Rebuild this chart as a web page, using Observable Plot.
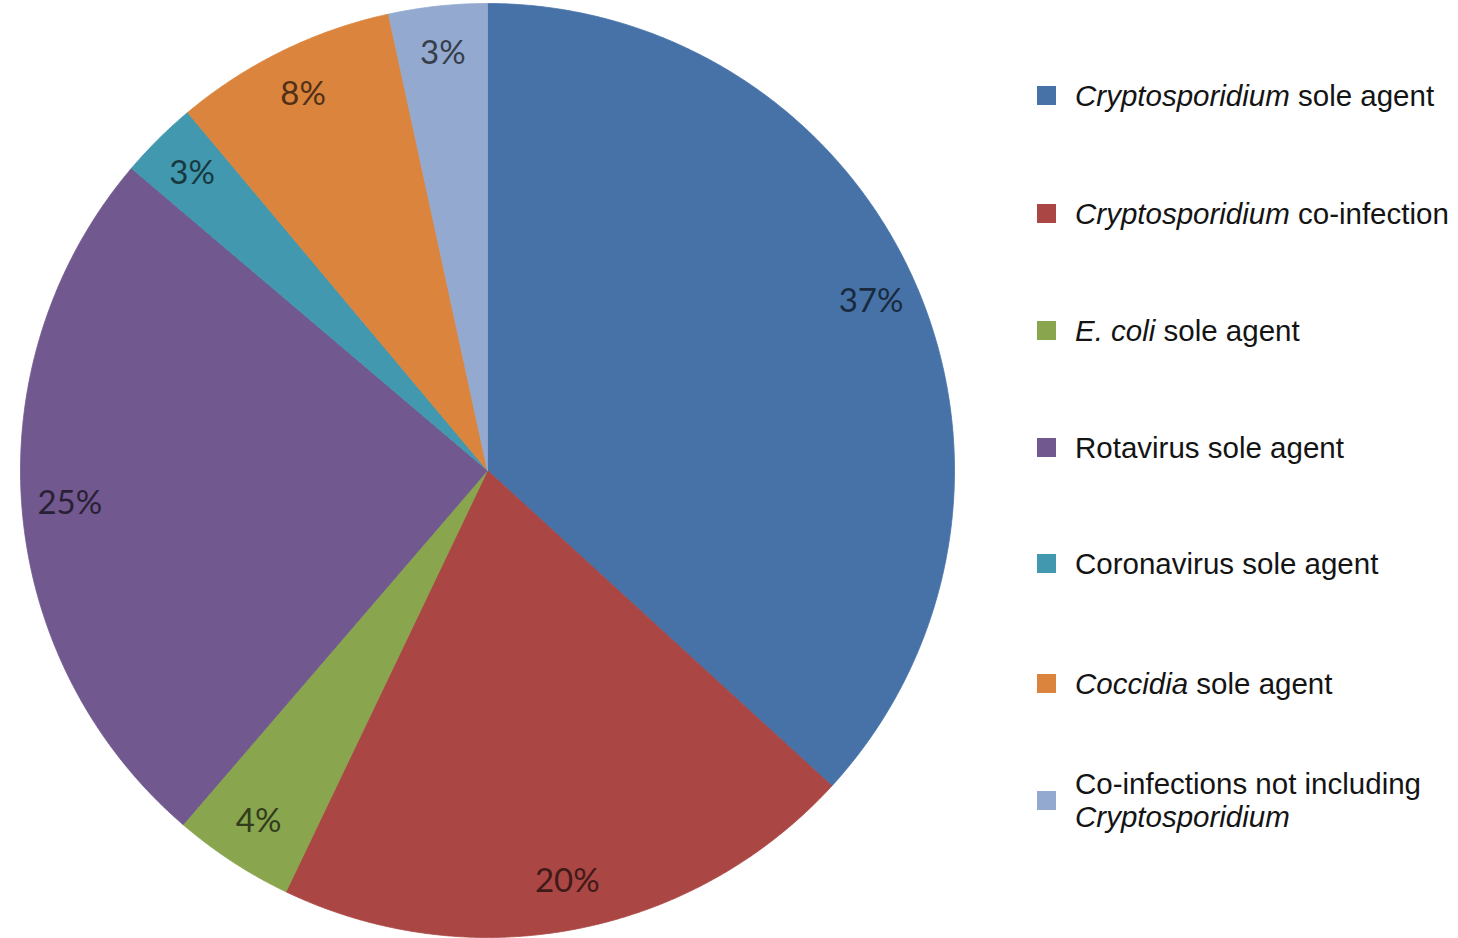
<!DOCTYPE html>
<html>
<head>
<meta charset="utf-8">
<script src="https://cdn.jsdelivr.net/npm/d3@7"></script>
<script src="https://cdn.jsdelivr.net/npm/@observablehq/plot@0.6"></script>
<style>
  html, body { margin: 0; padding: 0; background: #fff; }
  #wrap { position: relative; width: 1458px; height: 938px; }
  #legend { position: absolute; left: 1037px; top: 0; font-family: "Liberation Sans", Arial, sans-serif; font-size: 29.5px; color: #141414; }
  .item { position: absolute; left: 0; display: flex; align-items: center; white-space: nowrap; }
  .sw { width: 19px; height: 19px; margin-right: 19px; flex: none; }
  .txt { line-height: 33px; }
</style>
</head>
<body>
<div id="wrap"><div id="chart"></div><div id="legend"></div></div>
<script>
// Data
const categories = [
  "Cryptosporidium sole agent",
  "Cryptosporidium co-infection",
  "E. coli sole agent",
  "Rotavirus sole agent",
  "Coronavirus sole agent",
  "Coccidia sole agent",
  "Co-infections not including Cryptosporidium"
];
const shares = [36.8, 20.3, 4.2, 24.9, 2.7, 7.7, 3.4];
const labels = ["37%", "20%", "4%", "25%", "3%", "8%", "3%"];
const colors = ["#4672A8", "#AA4643", "#89A54E", "#71588F", "#4198AF", "#DB843D", "#93A9CF"];
// legend text with italic parts (HTML)
const legendHtml = [
  "<i>Cryptosporidium</i> sole agent",
  "<i>Cryptosporidium</i> co-infection",
  "<i>E. coli</i> sole agent",
  "Rotavirus sole agent",
  "Coronavirus sole agent",
  "<i>Coccidia</i> sole agent",
  "Co-infections not including<br><i>Cryptosporidium</i>"
];

// Layout
const W = 1458, H = 938;
const cx = 487, cy = 470, R = 467, rLabel = 419;

const pie = d3.pie().sort(null).value(d => d)(shares);
const poly = [];
const labelPts = [];
pie.forEach((s, i) => {
  const n = Math.max(4, Math.ceil((s.endAngle - s.startAngle) / 0.005));
  poly.push({cat: categories[i], x: cx, y: cy});
  for (let k = 0; k <= n; k++) {
    const a = s.startAngle + (s.endAngle - s.startAngle) * k / n;
    poly.push({cat: categories[i], x: cx + R * Math.sin(a), y: cy - R * Math.cos(a)});
  }
  poly.push({cat: categories[i], x: cx, y: cy});
  const m = (s.startAngle + s.endAngle) / 2;
  labelPts.push({cat: categories[i], label: labels[i], x: cx + rLabel * Math.sin(m), y: cy - rLabel * Math.cos(m),
    ink: d3.color(colors[i]).darker(2.8).formatHex()});
});

const chart = Plot.plot({
  width: W, height: H,
  margin: 0,
  x: {domain: [0, W], range: [0, W], axis: null},
  y: {domain: [0, H], range: [0, H], axis: null},
  color: {domain: categories, range: colors},
  style: {background: "white"},
  marks: [
    Plot.line(poly, {x: "x", y: "y", z: "cat", fill: "cat", stroke: "cat", strokeWidth: 0.8, curve: "linear"}),
    Plot.text(labelPts, {x: "x", y: "y", text: "label", fill: "ink", fontSize: 33, fontFamily: "Lato, 'Open Sans', sans-serif", textAnchor: "middle", lineAnchor: "middle"})
  ]
});
document.getElementById("chart").appendChild(chart);

// Legend (HTML, to allow italic parts)
const rowCenters = [95, 213, 330, 447, 563, 683, 800];
const leg = document.getElementById("legend");
categories.forEach((c, i) => {
  const div = document.createElement("div");
  div.className = "item";
  div.innerHTML = `<div class="sw" style="background:${colors[i]}"></div><div class="txt">${legendHtml[i]}</div>`;
  leg.appendChild(div);
  const h = div.getBoundingClientRect().height;
  div.style.top = (rowCenters[i] - h / 2) + "px";
});
</script>
</body>
</html>
